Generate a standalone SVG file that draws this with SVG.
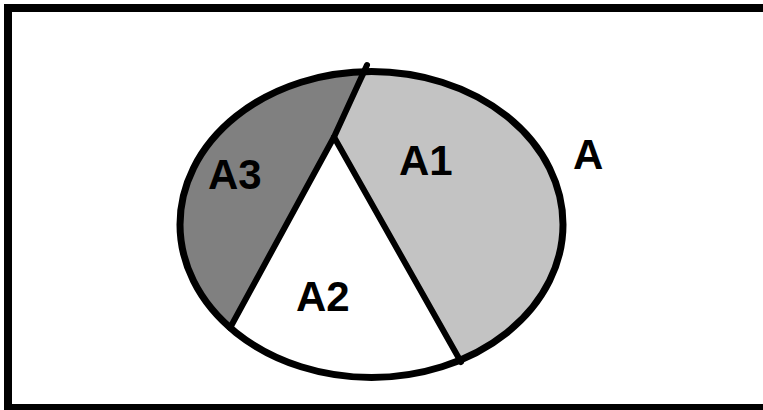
<svg xmlns="http://www.w3.org/2000/svg" width="763" height="410" viewBox="0 0 763 410">
  <style>
    .lbl { font-family: "Liberation Sans", Arial, sans-serif; font-weight: bold; font-size: 42px; fill: #000; }
    .edge { fill: none; stroke: #000; stroke-width: 6; stroke-linejoin: round; stroke-linecap: round; }
  </style>
  <rect x="0" y="0" width="763" height="410" fill="#fff"/>
  <g id="frame">
    <rect x="8" y="8" width="770" height="400" fill="none" stroke="#000" stroke-width="8"/>
  </g>
  <g id="A1">
    <ellipse cx="371.5" cy="224.5" rx="191.5" ry="153" fill="#c3c3c3"/>
  </g>
  <g id="A3">
    <path d="M368,71.5 A191.5,153 0 0,0 230,328 L334,137 Z" fill="#808080"/>
  </g>
  <g id="A2">
    <path d="M334,137 L230,328 A191.5,153 0 0,0 460,360 Z" fill="#ffffff"/>
  </g>
  <g id="connectors">
    <polyline class="edge" points="367,65 334,137 230,328"/>
    <line class="edge" x1="334" y1="137" x2="461" y2="362"/>
  </g>
  <g id="A">
    <ellipse cx="371.5" cy="224.5" rx="191.5" ry="153" fill="none" stroke="#000" stroke-width="7"/>
  </g>
  <g id="labels">
    <text class="lbl" x="208" y="189">A3</text>
    <text class="lbl" x="399" y="175">A1</text>
    <text class="lbl" x="296" y="311">A2</text>
    <text class="lbl" x="573" y="169">A</text>
  </g>
</svg>
